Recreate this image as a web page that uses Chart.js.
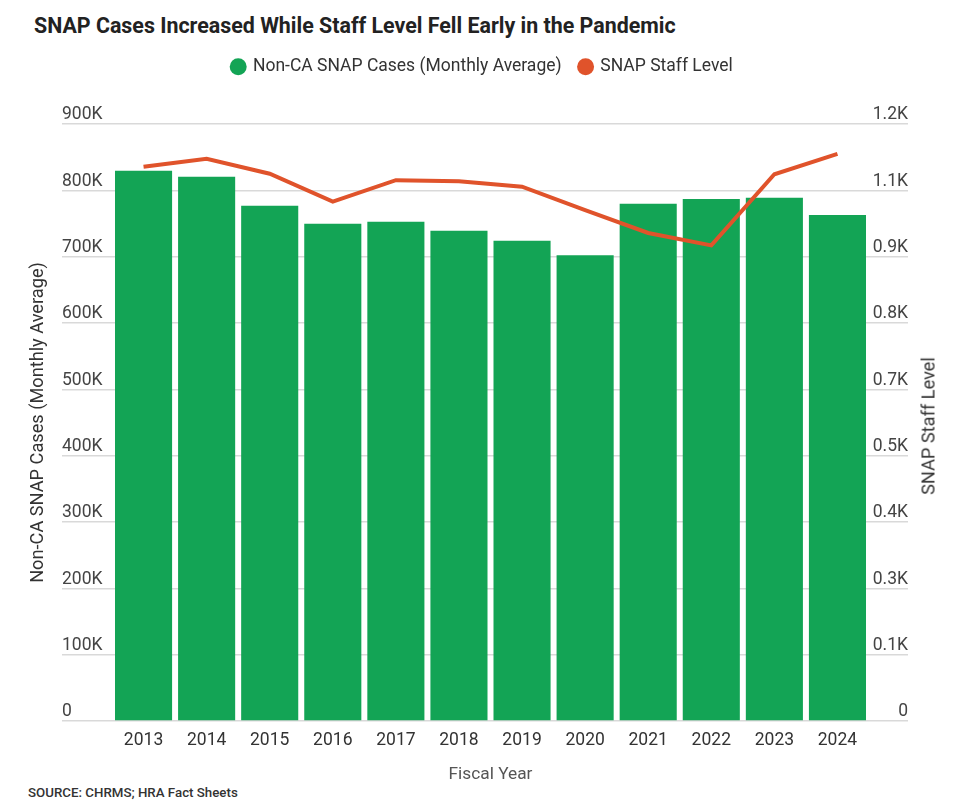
<!DOCTYPE html>
<html>
<head>
<meta charset="utf-8">
<title>SNAP Cases vs Staff Level</title>
<script src="https://cdn.jsdelivr.net/npm/chart.js@4.4.1/dist/chart.umd.min.js"></script>
<style>
    html, body {
        margin: 0;
        padding: 0;
        background: #fff;
    }

    body {
        font-family: Roboto, "Noto Sans", sans-serif;
    }

    #wrap {
        position: relative;
        width: 953px;
        height: 806px;
        overflow: hidden;
    }

    h1 {
        position: absolute;
        left: 34px;
        top: 13px;
        margin: 0;
        font-size: 21.4px;
        line-height: 26px;
        font-weight: 700;
        color: #222;
    }

    #box {
        position: absolute;
        left: 0;
        top: 40px;
        width: 953px;
        height: 745px;
    }

    #rightTitle {
        position: absolute;
        left: 928px;
        top: 426px;
        transform: translate(-50%, -50%) rotate(-90deg);
        white-space: nowrap;
        font-size: 18.2px;
        color: #333;
    }

    #source {
        position: absolute;
        left: 28px;
        top: 785px;
        font-size: 13.3px;
        font-weight: 500;
        color: #333;
    }
</style>
</head>
<body>
<div id="wrap">
    <h1>SNAP Cases Increased While Staff Level Fell Early in the Pandemic</h1>
    <div id="box"><canvas id="chart"></canvas></div>
    <div id="rightTitle">SNAP Staff Level</div>
    <div id="source">SOURCE: CHRMS; HRA Fact Sheets</div>
</div>

<script>
// Dane
const years = ['2013', '2014', '2015', '2016', '2017', '2018', '2019', '2020', '2021', '2022', '2023', '2024'];
const snapCases = [829600, 820500, 776800, 749600, 752600, 739000, 724000, 702000, 779800, 786900, 788800, 762800];
const staffLevel = [1114, 1130, 1100, 1044, 1087, 1085, 1074, 1027, 981, 956, 1099, 1140];

const GREEN = '#13a455';
const ORANGE = '#e0532b';
const GRID = '#d9d9d9';

Chart.defaults.font.family = 'Roboto, "Noto Sans", sans-serif';

// Dodatkowe miejsce pod legendą
const legendSpacer = {
    id: 'legendSpacer',
    beforeInit(chart) {
        const fit = chart.legend.fit;
        chart.legend.fit = function () {
            fit.bind(chart.legend)();
            this.height += 38.5;
        };
    },
};

new Chart(document.getElementById('chart'), {
    type: 'bar',
    data: {
        labels: years,
        datasets: [
            {
                type: 'bar',
                label: 'Non-CA SNAP Cases (Monthly Average)',
                data: snapCases,
                backgroundColor: GREEN,
                yAxisID: 'y',
                categoryPercentage: 1,
                barPercentage: 0.905,
                order: 1,
            },
            {
                type: 'line',
                label: 'SNAP Staff Level',
                data: staffLevel,
                borderColor: ORANGE,
                backgroundColor: ORANGE,
                borderWidth: 4,
                pointRadius: 0,
                tension: 0,
                yAxisID: 'y1',
                order: 0,
            },
        ],
    },
    options: {
        responsive: true,
        maintainAspectRatio: false,
        animation: false,
        layout: {
            padding: { left: 28, right: 16, top: 0, bottom: 0 },
        },
        plugins: {
            tooltip: { enabled: false },
            legend: {
                position: 'top',
                labels: {
                    usePointStyle: true,
                    pointStyle: 'circle',
                    boxWidth: 12,
                    boxHeight: 12,
                    padding: 18,
                    color: '#333',
                    font: { size: 17.5 },
                    sort: (a, b) => a.datasetIndex - b.datasetIndex,
                    generateLabels(chart) {
                        const items = Chart.defaults.plugins.legend.labels.generateLabels(chart);
                        items.forEach((item) => {
                            item.lineWidth = 0;
                        });
                        return items;
                    },
                },
            },
        },
        scales: {
            x: {
                grid: { display: false, drawTicks: false },
                border: { display: false },
                ticks: {
                    color: '#333',
                    font: { size: 17.5 },
                    padding: 9,
                },
                title: {
                    display: true,
                    text: 'Fiscal Year',
                    color: '#555',
                    font: { size: 17.3 },
                    padding: { top: 10, bottom: 0 },
                },
                afterFit(scale) {
                    scale.height = 64;
                },
            },
            y: {
                position: 'left',
                min: 0,
                max: 900000,
                border: { display: false },
                grid: {
                    color: GRID,
                    lineWidth: 1.5,
                    drawTicks: true,
                    tickLength: 50,
                },
                ticks: {
                    stepSize: 100000,
                    mirror: true,
                    crossAlign: 'near',
                    padding: -50,
                    labelOffset: -9,
                    color: '#444',
                    font: { size: 17.5 },
                    callback: (v) => (v === 0 ? '0' : v / 1000 + 'K'),
                },
                title: {
                    display: true,
                    text: 'Non-CA SNAP Cases (Monthly Average)',
                    color: '#333',
                    font: { size: 18.2 },
                    padding: 0,
                },
                afterFit(scale) {
                    scale.width = 84;
                },
            },
            y1: {
                position: 'right',
                min: 0,
                max: 1200,
                border: { display: false },
                grid: {
                    color: GRID,
                    lineWidth: 1.5,
                    drawOnChartArea: false,
                    drawTicks: true,
                    tickLength: 39,
                },
                ticks: {
                    count: 10,
                    mirror: true,
                    crossAlign: 'near',
                    padding: 39,
                    labelOffset: -9,
                    color: '#444',
                    font: { size: 17.5 },
                    callback: (v) => (v === 0 ? '0' : (v / 1000).toFixed(1) + 'K'),
                },
                afterFit(scale) {
                    scale.width = 68;
                },
            },
        },
    },
    plugins: [legendSpacer],
});
</script>
</body>
</html>
